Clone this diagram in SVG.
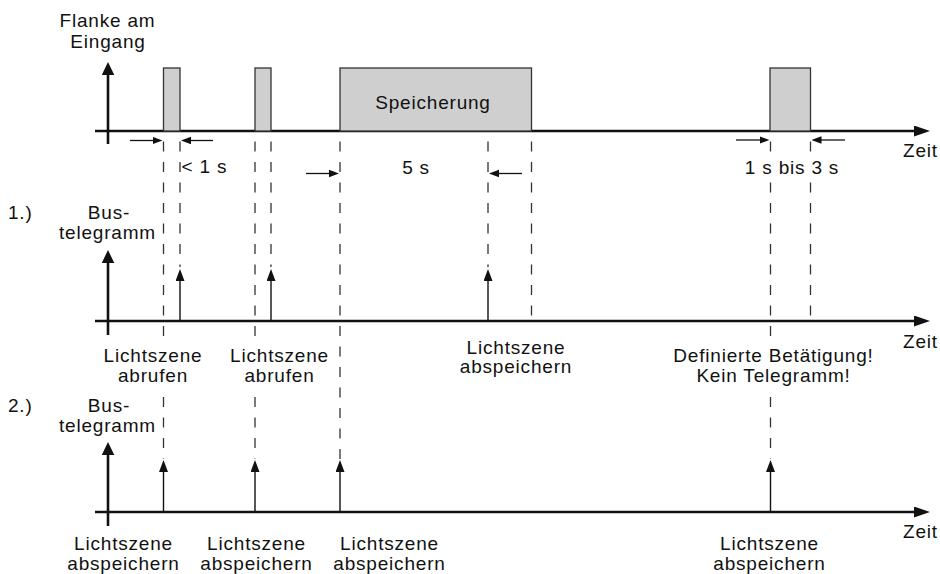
<svg xmlns="http://www.w3.org/2000/svg" width="940" height="574" viewBox="0 0 940 574">
<style>
text{font-family:"Liberation Sans",Arial,sans-serif;font-size:19px;letter-spacing:0.8px;fill:#111}
.m{text-anchor:middle}
.axis{stroke:#111;stroke-width:2.6;fill:none}
.pulse{fill:#cfcfcf;stroke:#333;stroke-width:1.3}
.dash{stroke:#333;stroke-width:1.3;stroke-dasharray:10 10.5;fill:none}
.imp{stroke:#111;stroke-width:1.4;fill:none;marker-end:url(#ah)}
.dim{stroke:#111;stroke-width:1.3;fill:none;marker-end:url(#dh)}
.hx{marker-end:url(#axh)}
.vy{marker-end:url(#ayh)}
</style>
<defs>
<marker id="ah" markerUnits="userSpaceOnUse" markerWidth="12" markerHeight="9" refX="3" refY="4.5" orient="auto"><path d="M0,0 L12,4.5 L0,9 z" fill="#111"/></marker>
<marker id="dh" markerUnits="userSpaceOnUse" markerWidth="10" markerHeight="8" refX="2" refY="3.75" orient="auto"><path d="M0,0 L10,3.75 L0,7.5 z" fill="#111"/></marker>
<marker id="axh" markerUnits="userSpaceOnUse" markerWidth="16" markerHeight="12" refX="4" refY="5.5" orient="auto"><path d="M0,0 L16,5.5 L0,11 z" fill="#111"/></marker>
<marker id="ayh" markerUnits="userSpaceOnUse" markerWidth="14" markerHeight="13" refX="3" refY="6.3" orient="auto"><path d="M0,0 L13,6.3 L0,12.6 z" fill="#111"/></marker>
</defs>

<g id="row0-input">
<line class="axis hx" x1="95" y1="131" x2="918" y2="131"/>
<line class="axis vy" x1="108" y1="144" x2="108" y2="72"/>
<rect id="pulse1" class="pulse" x="163.5" y="68" width="16.5" height="63"/>
<rect id="pulse2" class="pulse" x="255" y="68" width="16" height="63"/>
<g id="pulse3"><rect class="pulse" x="340" y="68" width="191.5" height="63"/><text class="m" x="433" y="109">Speicherung</text></g>
<rect id="pulse4" class="pulse" x="770" y="68" width="40.5" height="63"/>
<text class="m" x="107.5" y="27">Flanke am</text>
<text class="m" x="108" y="48">Eingang</text>
<text x="903" y="157">Zeit</text>
<text x="181.5" y="173">&lt; 1 s</text>
<text class="m" x="416" y="174">5 s</text>
<text class="m" x="792" y="174">1 s bis 3 s</text>
</g>

<g id="row1-bus">
<line class="axis hx" x1="95" y1="321" x2="918" y2="321"/>
<line class="axis vy" x1="108" y1="335" x2="108" y2="260"/>
<text x="8" y="218.5">1.)</text>
<text class="m" x="109" y="218.5">Bus-</text>
<text class="m" x="107.5" y="239">telegramm</text>
<text x="903" y="348.3">Zeit</text>
<g id="lbl1a"><text class="m" x="153" y="361.7">Lichtszene</text><text class="m" x="153" y="381.7">abrufen</text></g>
<g id="lbl1b"><text class="m" x="279.5" y="361.7">Lichtszene</text><text class="m" x="279.5" y="381.7">abrufen</text></g>
<g id="lbl1c"><text class="m" x="516" y="354">Lichtszene</text><text class="m" x="516" y="373">abspeichern</text></g>
<g id="lbl1d"><text class="m" x="773.5" y="362.3">Definierte Betätigung!</text><text class="m" x="773.5" y="382">Kein Telegramm!</text></g>
</g>

<g id="row2-bus">
<line class="axis hx" x1="95" y1="512" x2="918" y2="512"/>
<line class="axis vy" x1="108" y1="526" x2="108" y2="452"/>
<text x="8" y="411.7">2.)</text>
<text class="m" x="109" y="411.7">Bus-</text>
<text class="m" x="107.5" y="431.7">telegramm</text>
<text x="903" y="538.3">Zeit</text>
<g id="lbl2a"><text class="m" x="123.5" y="550">Lichtszene</text><text class="m" x="123.5" y="569.5">abspeichern</text></g>
<g id="lbl2b"><text class="m" x="256.5" y="550">Lichtszene</text><text class="m" x="256.5" y="569.5">abspeichern</text></g>
<g id="lbl2c"><text class="m" x="389.5" y="550">Lichtszene</text><text class="m" x="389.5" y="569.5">abspeichern</text></g>
<g id="lbl2d"><text class="m" x="769.5" y="550">Lichtszene</text><text class="m" x="769.5" y="569.5">abspeichern</text></g>
</g>

<g id="connectors">
<line class="dash" x1="163.5" y1="141.5" x2="163.5" y2="337"/>
<line class="dash" x1="163.5" y1="397" x2="163.5" y2="459"/>
<line class="dash" x1="180" y1="141.5" x2="180" y2="267"/>
<line class="dash" x1="255" y1="141.5" x2="255" y2="337"/>
<line class="dash" x1="255" y1="397" x2="255" y2="459"/>
<line class="dash" x1="271" y1="141.5" x2="271" y2="267"/>
<line class="dash" x1="340" y1="141.5" x2="340" y2="459"/>
<line class="dash" x1="488" y1="141.5" x2="488" y2="267"/>
<line class="dash" x1="531.5" y1="141.5" x2="531.5" y2="321"/>
<line class="dash" x1="770.5" y1="141.5" x2="770.5" y2="151.5"/>
<line class="dash" x1="770.5" y1="182.5" x2="770.5" y2="337"/>
<line class="dash" x1="770.5" y1="397" x2="770.5" y2="459"/>
<line class="dash" x1="810.5" y1="141.5" x2="810.5" y2="151.5"/>
<line class="dash" x1="810.5" y1="182.5" x2="810.5" y2="321"/>

<line class="imp" x1="180" y1="321" x2="180" y2="278"/>
<line class="imp" x1="271" y1="321" x2="271" y2="278"/>
<line class="imp" x1="488" y1="321" x2="488" y2="278"/>
<line class="imp" x1="163.5" y1="512" x2="163.5" y2="469"/>
<line class="imp" x1="255" y1="512" x2="255" y2="469"/>
<line class="imp" x1="340" y1="512" x2="340" y2="469"/>
<line class="imp" x1="770.5" y1="512" x2="770.5" y2="469"/>

<line class="dim" x1="130" y1="140.5" x2="154.5" y2="140.5"/>
<line class="dim" x1="213" y1="140.5" x2="189" y2="140.5"/>
<line class="dim" x1="306" y1="173.5" x2="331" y2="173.5"/>
<line class="dim" x1="522" y1="173.5" x2="497" y2="173.5"/>
<line class="dim" x1="736" y1="140" x2="761.5" y2="140"/>
<line class="dim" x1="845" y1="140" x2="819.5" y2="140"/>
</g>
</svg>
